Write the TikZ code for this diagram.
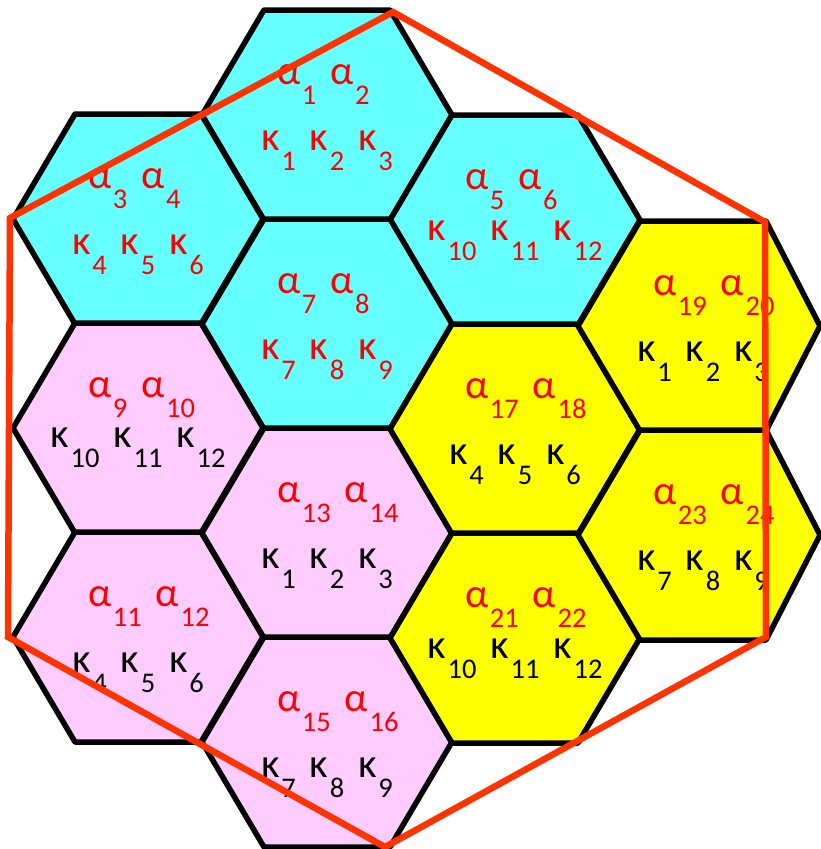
\documentclass[tikz,border=0pt]{standalone}
\usepackage{fontspec}
\setmainfont{Carlito}
\definecolor{cyanf}{HTML}{66FFFF}
\definecolor{pinkf}{HTML}{FFCCFF}
\definecolor{yelf}{HTML}{FFFF00}
\definecolor{outl}{HTML}{FF3300}
\definecolor{txtred}{HTML}{FF0000}
\newcommand\sy[2]{#1\kern1.5pt\raisebox{-20pt}{\fontsize{28.5}{28.5}\selectfont #2}}
\newcommand\gp{\hspace{14pt}}
\tikzset{
  hexcell/.style={draw=black, line width=5.5pt, line join=round},
  arow/.style={anchor=base west, inner sep=0pt, text height=20pt, text depth=0pt, text=txtred, font=\fontsize{41}{41}\selectfont},
  krow/.style={anchor=base, inner sep=0pt, text height=20pt, text depth=0pt, font=\fontsize{41}{41}\selectfont},
  outline/.style={draw=outl, line width=6.5pt, line join=miter}
}
% hexagon: [right half width] cx, cy, fill
\newcommand\hexcell[4][125]{%
  \path[hexcell, fill=#4] (#2-125,#3) -- (#2-63,#3-105) -- (#2+63,#3-105) -- (#2+#1,#3) -- (#2+63,#3+105) -- (#2-63,#3+105) -- cycle;}
% alpha row: name, cx, cy, sub1, sub2
\newcommand\alabels[5]{%
  \node[arow] (#1) at (#2-50,#3-31) {\sy{α}{#4}\gp\sy{α}{#5}};}
% kappa row: name, x, y, colour, k1, k2, k3
\newcommand\klabels[7]{%
  \node[krow, text=#4] (#1) at (#2,#3) {\sy{κ}{#5}\gp\sy{κ}{#6}\gp\sy{κ}{#7}};}
\begin{document}
\begin{tikzpicture}[x=1pt,y=-1pt]
\useasboundingbox (0,0) rectangle (821,849);
\clip (0,0) rectangle (821,849);
% cyan cells
\hexcell{327}{115}{cyanf}
\hexcell{138}{219}{cyanf}
\hexcell{515}{220}{cyanf}
\hexcell{327}{324}{cyanf}
% pink cells
\hexcell{138}{428}{pinkf}
\hexcell{138}{637}{pinkf}
\hexcell{327}{533}{pinkf}
\hexcell{327}{742}{pinkf}
% yellow cells
\hexcell{515}{429}{yelf}
\hexcell[117]{703}{326}{yelf}
\hexcell{515}{638}{yelf}
\hexcell[117]{703}{535}{yelf}
% labels
\alabels{a1}{327}{115}{1}{2}
\klabels{k1}{327}{150}{txtred}{1}{2}{3}
\alabels{a3}{138}{219}{3}{4}
\klabels{k3}{138}{254}{txtred}{4}{5}{6}
\alabels{a5}{515}{220}{5}{6}
\klabels{k5}{515}{240}{txtred}{10}{11}{12}
\alabels{a7}{327}{324}{7}{8}
\klabels{k7}{327}{359}{txtred}{7}{8}{9}
\alabels{a9}{138}{428}{9}{10}
\klabels{k9}{138}{447}{black}{10}{11}{12}
\alabels{a11}{138}{637}{11}{12}
\klabels{k11}{138}{672}{black}{4}{5}{6}
\alabels{a13}{327}{533}{13}{14}
\klabels{k13}{327}{568}{black}{1}{2}{3}
\alabels{a15}{327}{742}{15}{16}
\klabels{k15}{327}{777}{black}{7}{8}{9}
\alabels{a17}{515}{429}{17}{18}
\klabels{k17}{515}{464}{black}{4}{5}{6}
\alabels{a19}{703}{326}{19}{20}
\klabels{k19}{703}{361}{black}{1}{2}{3}
\alabels{a21}{515}{638}{21}{22}
\klabels{k21}{515}{658}{black}{10}{11}{12}
\alabels{a23}{703}{535}{23}{24}
\klabels{k23}{703}{570}{black}{7}{8}{9}
% red outline
\path[outline] (393,12) -- (765,222) -- (766,637) -- (385,847) -- (8,637) -- (10,218) -- cycle;
\end{tikzpicture}
\end{document}
